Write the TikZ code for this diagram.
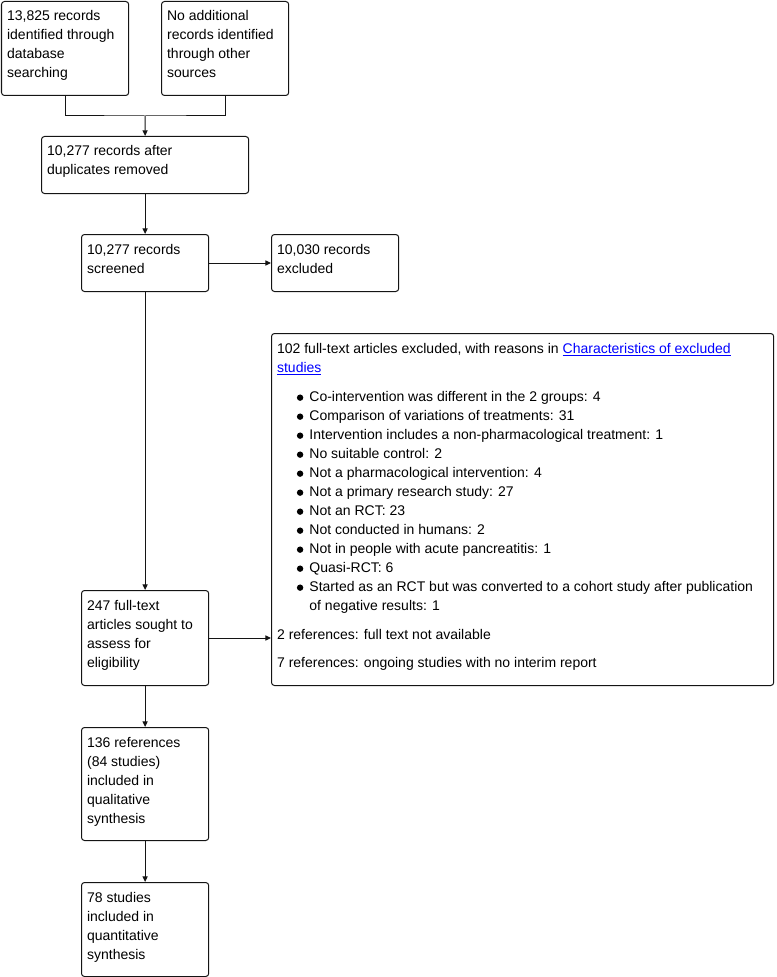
\documentclass[tikz,border=0pt]{standalone}
\usepackage{fontspec}
\setmainfont{Liberation Sans}
\usetikzlibrary{arrows.meta}
\definecolor{linkblue}{RGB}{0,0,255}
\definecolor{edge}{RGB}{20,20,20}
\newcommand\bx[3]{\begin{minipage}[t][\dimexpr 0.75pt*#2-9.3pt\relax][t]{\dimexpr 0.75pt*#1-9pt\relax}\raggedright\strut #3\end{minipage}}
\newcommand\blt{\hspace*{14.85pt}\tikz[baseline=-2.5pt]\fill[black] (0,0) circle (2.4pt);\hspace{4.6pt}}
\newcommand\cnt{\hspace*{24.25pt}}
\begin{document}
\begin{tikzpicture}[x=0.75pt,y=-0.75pt,
  box/.style={draw=edge, line width=0.75pt, rounded corners=2.25pt, inner xsep=4.2pt, inner ysep=4.65pt, anchor=north west, font=\fontsize{10.5}{14.25}\selectfont},
  arr/.style={draw=edge, line width=0.75pt, -{Triangle[length=4.2pt,width=3.8pt]}},
  ln/.style={draw=edge, line width=0.75pt}]
\useasboundingbox (0,0) rectangle (776,977);
\node[box] (A) at (1,1) {\bx{128}{94}{13,825 records\\identified through\\database\\searching}};
\node[box] (B) at (161,1) {\bx{128}{94}{No additional\\records identified\\through other\\sources}};
\node[box] (C) at (41,136) {\bx{208}{57}{10,277 records after\\duplicates removed}};
\node[box] (D) at (81,234) {\bx{128}{57}{10,277 records\\screened}};
\node[box] (E) at (271,234) {\bx{128}{57}{10,030 records\\excluded}};
\node[box] (G) at (271,333) {\bx{503}{352}{102 full-text articles excluded, with reasons in \textcolor{linkblue}{\underline{Characteristics of excluded}}\\
\textcolor{linkblue}{\underline{studies}}\par\vspace{7.5pt}
\blt Co-intervention was different in the 2 groups: 4\par
\blt Comparison of variations of treatments: 31\par
\blt Intervention includes a non-pharmacological treatment: 1\par
\blt No suitable control: 2\par
\blt Not a pharmacological intervention: 4\par
\blt Not a primary research study: 27\par
\blt Not an RCT: 23\par
\blt Not conducted in humans: 2\par
\blt Not in people with acute pancreatitis: 1\par
\blt Quasi-RCT: 6\par
\blt Started as an RCT but was converted to a cohort study after publication\par
\cnt of negative results: 1\par\vspace{7.5pt}
2 references: full text not available\par\vspace{7pt}
7 references: ongoing studies with no interim report}};
\node[box] (F) at (81,590) {\bx{128}{95}{247 full-text\\articles sought to\\assess for\\eligibility}};
\node[box] (H) at (81,727) {\bx{128}{113}{136 references\\(84 studies)\\included in\\qualitative\\synthesis}};
\node[box] (I) at (81,882) {\bx{128}{94}{78 studies\\included in\\quantitative\\synthesis}};
\coordinate (j) at (145,116);
\draw[ln] (A.south) |- (j) -| (B.south);
\draw[arr] (j) -- (C.north);
\draw[arr] (C.south) -- (D.north);
\draw[arr] (D.east) -- (E.west);
\draw[arr] (D.south) -- (F.north);
\draw[arr] (F.east) -- (F.east -| G.west);
\draw[arr] (F.south) -- (H.north);
\draw[arr] (H.south) -- (I.north);
\end{tikzpicture}
\end{document}
